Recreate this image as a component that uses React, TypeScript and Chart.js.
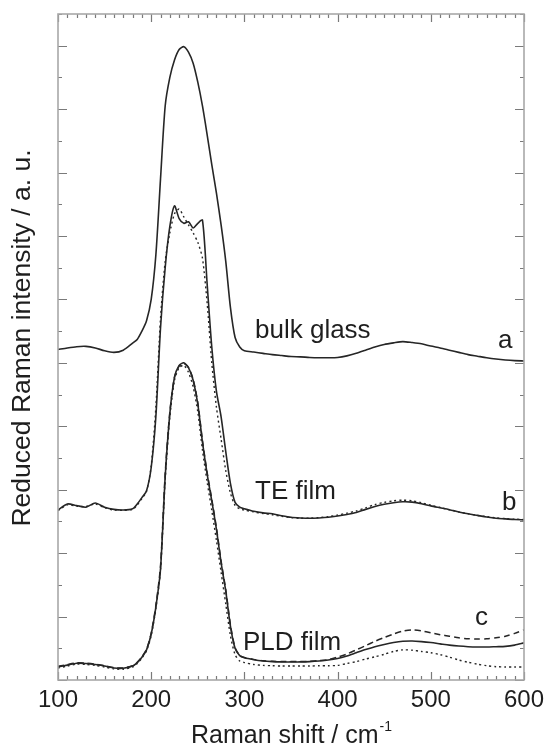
import React, { useEffect, useRef } from "react";
import { Chart, registerables } from "chart.js";

Chart.register(...registerables);

// Raman shift grid (cm^-1)
const ramanShift = [
  100, 110, 120, 130, 140, 150, 160, 170, 180,
  185, 190, 195, 200, 205, 210, 215, 220, 225, 230, 235, 240, 245, 250, 255, 260, 265, 270, 275, 280, 285, 290, 295, 300,
  310, 320, 330, 340, 350, 360, 370, 380, 390, 400, 410, 420, 430, 440, 450, 460, 470, 480, 490, 500, 510, 520, 530, 540, 550, 560, 570, 580, 590, 600,
];

// a: bulk glass (offset spectrum)
const bulkGlass = [
  10.42, 10.47, 10.51, 10.52, 10.47, 10.38, 10.33, 10.40, 10.62,
  10.74, 11.0, 11.33, 12.0, 13.4, 15.8, 18.1, 19.0, 19.55, 19.88, 19.97, 19.8, 19.45, 18.85, 18.1, 17.2, 16.25, 15.35, 14.35, 13.2, 11.75, 10.8, 10.5, 10.38,
  10.34, 10.3, 10.26, 10.23, 10.2, 10.19, 10.17, 10.16, 10.16, 10.17, 10.22, 10.3, 10.4, 10.5, 10.58, 10.63, 10.67, 10.64, 10.6, 10.53, 10.47, 10.4, 10.33, 10.26, 10.21, 10.16, 10.12, 10.09, 10.07, 10.06,
];

// b: TE film (solid)
const teFilm = [
  5.36, 5.55, 5.5, 5.45, 5.58, 5.45, 5.38, 5.36, 5.4,
  5.55, 5.75, 5.97, 6.7, 8.3, 11.1, 13.0, 14.3, 14.95, 14.55, 14.4, 14.45, 14.25, 14.4, 14.5, 12.5, 10.5, 9.1, 8.3, 7.2, 6.2, 5.6, 5.45, 5.4,
  5.32, 5.27, 5.24, 5.18, 5.13, 5.11, 5.1, 5.11, 5.13, 5.17, 5.22, 5.28, 5.38, 5.47, 5.54, 5.59, 5.62, 5.61, 5.56, 5.49, 5.43, 5.37, 5.3, 5.24, 5.19, 5.14, 5.1, 5.08, 5.06, 5.05,
];

// b: TE film (dotted)
const teFilmDotted = [
  5.34, 5.52, 5.48, 5.47, 5.55, 5.43, 5.36, 5.35, 5.38,
  5.52, 5.72, 5.95, 6.75, 8.6, 11.4, 13.2, 14.1, 14.7, 14.85, 14.6, 14.35, 14.1, 13.8, 13.3, 11.9, 10.0, 8.6, 7.6, 6.6, 5.9, 5.5, 5.4, 5.36,
  5.3, 5.25, 5.21, 5.16, 5.12, 5.1, 5.1, 5.12, 5.15, 5.2, 5.26, 5.33, 5.43, 5.53, 5.6, 5.65, 5.67, 5.65, 5.59, 5.51, 5.44, 5.37, 5.3, 5.24, 5.19, 5.15, 5.11, 5.09, 5.07, 5.06,
];

// c: PLD film (solid)
const pldFilm = [
  0.41, 0.47, 0.53, 0.52, 0.49, 0.44, 0.38, 0.37, 0.44,
  0.55, 0.72, 0.95, 1.45, 2.3, 3.5, 6.4, 8.4, 9.55, 9.92, 10.0, 9.85, 9.45, 8.7, 7.5, 6.5, 5.65, 4.75, 3.7, 2.8, 1.7, 1.0, 0.77, 0.7,
  0.64, 0.6, 0.58, 0.57, 0.57, 0.57, 0.58, 0.6, 0.63, 0.68, 0.76, 0.86, 0.96, 1.05, 1.12, 1.18, 1.22, 1.23, 1.21, 1.18, 1.14, 1.1, 1.07, 1.05, 1.04, 1.04, 1.05, 1.06, 1.1, 1.17,
];

// c: PLD film (dashed)
const pldFilmDashed = [
  0.43, 0.49, 0.54, 0.53, 0.5, 0.45, 0.39, 0.38, 0.45,
  0.56, 0.73, 0.97, 1.48, 2.35, 3.6, 6.5, 8.45, 9.55, 9.9, 9.98, 9.85, 9.48, 8.75, 7.55, 6.55, 5.7, 4.8, 3.75, 2.85, 1.75, 1.02, 0.78, 0.71,
  0.65, 0.61, 0.59, 0.58, 0.58, 0.58, 0.59, 0.61, 0.64, 0.72, 0.82, 0.95, 1.08, 1.22, 1.34, 1.45, 1.54, 1.58, 1.55, 1.49, 1.43, 1.38, 1.33, 1.3, 1.29, 1.3, 1.33, 1.38, 1.47, 1.58,
];

// c: PLD film (dotted)
const pldFilmDotted = [
  0.38, 0.44, 0.5, 0.49, 0.46, 0.41, 0.35, 0.34, 0.41,
  0.52, 0.69, 0.92, 1.4, 2.25, 3.45, 6.3, 8.3, 9.45, 9.85, 9.92, 9.7, 9.25, 8.45, 7.25, 6.25, 5.35, 4.4, 3.4, 2.4, 1.4, 0.8, 0.6, 0.55,
  0.49, 0.46, 0.45, 0.44, 0.44, 0.44, 0.44, 0.45, 0.45, 0.46, 0.52, 0.58, 0.66, 0.73, 0.81, 0.9, 0.95, 0.94, 0.9, 0.86, 0.8, 0.72, 0.63, 0.56, 0.5, 0.45, 0.42, 0.41, 0.41, 0.41,
];

const xTickValues = [100, 200, 300, 400, 500, 600];
const xTickLabels = ["100", "200", "300", "400", "500", "600"];
const xTitle = "Raman shift / cm";
const xTitleSup = "-1";
const yTitle = "Reduced Raman intensity / a. u.";

const curveNames = ["bulk glass", "TE film", "PLD film"];
const curveLetters = ["a", "b", "c"];

const FONT = "'Liberation Sans', Arial, Helvetica, sans-serif";
const INK = "#1e1e1e";

function pts(ys: number[]) {
  return ramanShift.map((x, i) => ({ x, y: ys[i] }));
}

const framePlugin = {
  id: "framePlugin",
  afterDatasetsDraw(chart: any) {
    const { ctx, chartArea, scales } = chart;
    const xs = scales.x;
    const ys = scales.y;
    const { left, right, top, bottom } = chartArea;
    ctx.save();
    // ticks
    ctx.strokeStyle = "#7a7a7a";
    ctx.lineWidth = 1.2;
    ctx.beginPath();
    for (let v = 100; v <= 600; v += 10) {
      const px = Math.round(xs.getPixelForValue(v)) + 0.5;
      const len = v % 100 === 0 ? 8 : 4;
      ctx.moveTo(px, bottom);
      ctx.lineTo(px, bottom - len);
      ctx.moveTo(px, top);
      ctx.lineTo(px, top + len);
    }
    for (let v = 0; v <= 21; v += 1) {
      const py = Math.round(ys.getPixelForValue(v)) + 0.5;
      const len = v % 2 === 0 ? 9 : 4;
      ctx.moveTo(left, py);
      ctx.lineTo(left + len, py);
      ctx.moveTo(right, py);
      ctx.lineTo(right - len, py);
    }
    ctx.stroke();
    // frame
    ctx.strokeStyle = "#a8a8a8";
    ctx.lineWidth = 1.6;
    ctx.strokeRect(left, top, right - left, bottom - top);

    // tick labels
    ctx.fillStyle = INK;
    ctx.font = `24px ${FONT}`;
    ctx.textAlign = "center";
    ctx.textBaseline = "alphabetic";
    xTickValues.forEach((v, i) => {
      ctx.fillText(xTickLabels[i], xs.getPixelForValue(v), bottom + 27);
    });

    // x title with superscript
    ctx.font = `25px ${FONT}`;
    const w1 = ctx.measureText(xTitle).width;
    ctx.font = `14px ${FONT}`;
    const w2 = ctx.measureText(xTitleSup).width;
    const cx = (left + right) / 2;
    const startX = cx - (w1 + w2) / 2;
    ctx.textAlign = "left";
    ctx.font = `25px ${FONT}`;
    ctx.fillText(xTitle, startX, bottom + 63);
    ctx.font = `14px ${FONT}`;
    ctx.fillText(xTitleSup, startX + w1 + 1, bottom + 51);

    // y title
    ctx.save();
    ctx.translate(23, (top + bottom) / 2 - 9);
    ctx.rotate(-Math.PI / 2);
    ctx.textAlign = "center";
    ctx.textBaseline = "middle";
    ctx.font = `26.5px ${FONT}`;
    ctx.fillText(yTitle, 0, 0);
    ctx.restore();

    // curve annotations
    ctx.font = `26px ${FONT}`;
    ctx.textAlign = "left";
    ctx.textBaseline = "alphabetic";
    ctx.fillText(curveNames[0], 255, 338);
    ctx.fillText(curveNames[1], 255, 499);
    ctx.fillText(curveNames[2], 243, 650);
    ctx.fillText(curveLetters[0], 498, 348);
    ctx.fillText(curveLetters[1], 502, 510);
    ctx.fillText(curveLetters[2], 475, 625);
    ctx.restore();
  },
};

export default function App() {
  const ref = useRef<HTMLCanvasElement | null>(null);
  useEffect(() => {
    if (!ref.current) return;
    const line = (data: number[], dash: number[], width = 1.6) => ({
      data: pts(data),
      borderColor: "#262626",
      borderWidth: width,
      borderDash: dash,
      pointRadius: 0,
      fill: false,
      tension: 0.25,
    });
    const chart = new Chart(ref.current, {
      type: "line",
      data: {
        datasets: [
          line(pldFilmDotted, [2, 3], 1.4),
          line(pldFilmDashed, [6, 4], 1.5),
          line(pldFilm, []),
          line(teFilmDotted, [2, 3], 1.4),
          line(teFilm, []),
          line(bulkGlass, []),
        ],
      },
      options: {
        animation: false,
        responsive: true,
        maintainAspectRatio: false,
        layout: { padding: { left: 58, right: 25, top: 14, bottom: 68 } },
        plugins: { legend: { display: false }, tooltip: { enabled: false } },
        scales: {
          x: { type: "linear", min: 100, max: 600, display: false },
          y: { type: "linear", min: 0, max: 21, display: false },
        },
      },
      plugins: [framePlugin],
    });
    return () => chart.destroy();
  }, []);
  return (
    <div style={{ position: "absolute", left: 0, top: 0, width: 549, height: 748, background: "#fff" }}>
      <canvas ref={ref} />
    </div>
  );
}
